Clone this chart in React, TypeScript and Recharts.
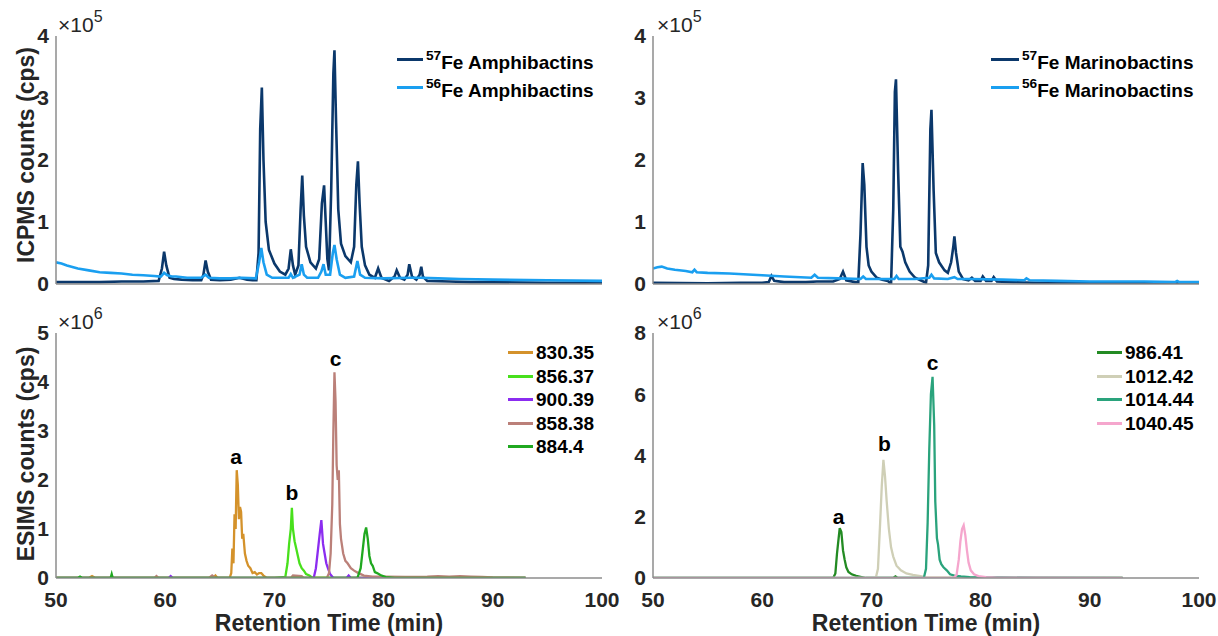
import React from 'react';
import { LineChart, Line, XAxis, YAxis, ReferenceDot } from 'recharts';

// ICPMS traces, counts in units of 1e5 cps
const amphi57T = [50, 52, 54, 56, 58, 59.4, 59.7, 59.9, 60.1, 60.4, 60.8, 61.5, 62.5, 63.3, 63.5, 63.7, 63.9, 64.2, 65, 66, 66.8, 67.5, 68, 68.35, 68.55, 68.7, 68.85, 69.0, 69.2, 69.5, 70, 70.5, 71, 71.3, 71.5, 71.7, 71.9, 72.2, 72.4, 72.55, 72.7, 72.9, 73.3, 73.8, 74.1, 74.35, 74.55, 74.7, 74.85, 75.0, 75.2, 75.4, 75.5, 75.65, 75.85, 76.1, 76.5, 77.0, 77.3, 77.5, 77.65, 77.8, 78.0, 78.3, 78.7, 79.2, 79.5, 79.8, 80.5, 81.0, 81.2, 81.5, 81.9, 82.2, 82.35, 82.6, 83.0, 83.3, 83.45, 83.6, 84, 86, 88, 90, 95, 100];
const amphi57Y = [0.03, 0.03, 0.03, 0.04, 0.04, 0.05, 0.25, 0.52, 0.3, 0.1, 0.08, 0.07, 0.06, 0.06, 0.15, 0.38, 0.2, 0.07, 0.06, 0.07, 0.1, 0.07, 0.06, 0.06, 0.5, 2.5, 3.17, 2.0, 1.0, 0.55, 0.33, 0.2, 0.15, 0.25, 0.56, 0.3, 0.15, 0.3, 1.2, 1.75, 1.1, 0.6, 0.35, 0.25, 0.4, 1.3, 1.59, 1.0, 0.4, 0.22, 1.5, 3.4, 3.77, 2.6, 1.2, 0.65, 0.45, 0.35, 0.6, 1.6, 1.98, 1.3, 0.6, 0.3, 0.15, 0.1, 0.25, 0.1, 0.05, 0.12, 0.22, 0.1, 0.07, 0.15, 0.32, 0.12, 0.07, 0.15, 0.28, 0.12, 0.05, 0.04, 0.03, 0.03, 0.02, 0.02];

const amphi56T = [50, 50.5, 51, 52, 53, 54, 55, 56, 57, 58, 59, 59.6, 59.9, 60.2, 60.6, 61, 62, 63.3, 63.7, 64.0, 65, 66, 67, 68.3, 68.6, 68.8, 69.0, 69.3, 69.8, 71.3, 71.5, 71.7, 72.3, 72.5, 72.7, 73, 74, 74.3, 74.5, 74.7, 75.1, 75.35, 75.5, 75.7, 76, 76.5, 77.3, 77.6, 77.85, 78.3, 80, 82.4, 83.4, 85, 87, 90, 95, 100];
const amphi56Y = [0.35, 0.33, 0.3, 0.25, 0.22, 0.19, 0.18, 0.17, 0.15, 0.14, 0.13, 0.12, 0.18, 0.14, 0.12, 0.12, 0.1, 0.1, 0.15, 0.1, 0.09, 0.09, 0.1, 0.09, 0.35, 0.58, 0.35, 0.15, 0.1, 0.1, 0.16, 0.1, 0.15, 0.32, 0.15, 0.1, 0.1, 0.2, 0.32, 0.15, 0.15, 0.5, 0.63, 0.4, 0.15, 0.1, 0.12, 0.37, 0.15, 0.1, 0.09, 0.1, 0.1, 0.09, 0.08, 0.07, 0.06, 0.05];

const marino57T = [50, 55, 58, 60, 60.6, 60.85, 61.1, 62, 64, 65, 66.5, 67.1, 67.4, 67.7, 68.5, 68.8, 69.0, 69.2, 69.35, 69.55, 69.75, 70, 70.5, 71, 71.5, 71.8, 72.0, 72.15, 72.25, 72.45, 72.65, 72.85, 73.1, 73.5, 74.0, 74.5, 75.0, 75.2, 75.4, 75.5, 75.7, 75.9, 76.2, 76.7, 77.0, 77.3, 77.5, 77.6, 77.75, 78.0, 78.4, 78.9, 79.2, 79.5, 80.0, 80.2, 80.5, 81.0, 81.2, 81.5, 83, 85, 90, 95, 100];
const marino57Y = [0.02, 0.01, 0.02, 0.02, 0.03, 0.13, 0.05, 0.03, 0.03, 0.04, 0.04, 0.08, 0.2, 0.06, 0.03, 0.03, 0.8, 1.95, 1.6, 0.6, 0.3, 0.2, 0.1, 0.07, 0.05, 0.0, 1.2, 3.1, 3.3, 1.8, 0.6, 0.52, 0.35, 0.2, 0.1, 0.06, 0.02, 0.3, 2.5, 2.81, 1.5, 0.5, 0.35, 0.22, 0.18, 0.35, 0.6, 0.77, 0.5, 0.2, 0.08, 0.06, 0.1, 0.05, 0.05, 0.12, 0.05, 0.05, 0.11, 0.04, 0.03, 0.02, 0.01, 0.01, 0.01];

const marino56T = [50, 50.4, 50.8, 51.3, 52, 53, 53.6, 53.8, 54.0, 55, 57, 60, 62, 64.5, 64.8, 65.1, 67, 69.0, 69.25, 69.5, 71, 72.1, 72.3, 72.5, 74, 75.3, 75.5, 75.75, 77, 77.6, 77.9, 79, 82, 84.0, 84.2, 84.5, 87, 90, 95, 97.8, 98.0, 98.2, 100];
const marino56Y = [0.25, 0.27, 0.28, 0.25, 0.23, 0.21, 0.19, 0.23, 0.19, 0.18, 0.17, 0.14, 0.12, 0.1, 0.15, 0.1, 0.09, 0.08, 0.12, 0.08, 0.08, 0.08, 0.13, 0.08, 0.08, 0.1, 0.15, 0.09, 0.08, 0.11, 0.08, 0.08, 0.07, 0.06, 0.09, 0.06, 0.05, 0.04, 0.04, 0.03, 0.05, 0.03, 0.03];

// ESIMS extracted ion traces, counts in units of 1e6 cps
const esi830T = [50, 53, 53.3, 53.6, 58, 62, 64.4, 64.6, 64.8, 65.9, 66.05, 66.15, 66.25, 66.35, 66.45, 66.55, 66.65, 66.75, 66.85, 66.95, 67.05, 67.15, 67.3, 67.45, 67.6, 67.8, 68.0, 68.2, 68.4, 68.6, 68.8, 69.0, 69.3, 75, 80, 88, 93];
const esi830Y = [0, 0, 0.04, 0, 0, 0, 0, 0.05, 0, 0, 0.1, 0.6, 0.3, 1.3, 1.0, 2.2, 1.9, 1.2, 1.45, 1.35, 0.8, 0.9, 0.5, 0.35, 0.25, 0.2, 0.1, 0.12, 0.07, 0.1, 0.1, 0.05, 0, 0, 0, 0, 0];

const esi856T = [50, 60, 70, 71.0, 71.2, 71.35, 71.5, 71.6, 71.7, 71.85, 72.0, 72.15, 72.3, 72.5, 72.7, 72.9, 73.2, 73.5, 80, 93];
const esi856Y = [0, 0, 0, 0.02, 0.3, 0.7, 1.0, 1.43, 1.0, 0.75, 0.6, 0.45, 0.3, 0.2, 0.15, 0.08, 0.05, 0, 0, 0];

const esi900T = [50, 60.3, 60.5, 60.7, 70, 73.6, 73.8, 74.0, 74.15, 74.3, 74.45, 74.6, 74.75, 74.9, 75.1, 75.4, 76.6, 76.8, 77, 93];
const esi900Y = [0, 0, 0.04, 0, 0, 0, 0.2, 0.6, 0.9, 1.18, 0.7, 0.5, 0.3, 0.2, 0.08, 0, 0, 0.05, 0, 0];

const esi858T = [50, 59, 59.2, 59.4, 64, 64.3, 64.6, 70, 71.5, 71.7, 72.5, 72.7, 74.8, 75.0, 75.15, 75.3, 75.4, 75.5, 75.6, 75.7, 75.8, 75.9, 76.0, 76.1, 76.3, 76.5, 76.7, 77.0, 77.3, 77.7, 78.2, 79, 80, 82, 84, 85, 86, 87, 88, 89, 90, 93];
const esi858Y = [0, 0, 0.04, 0, 0, 0.05, 0, 0, 0, 0.05, 0.04, 0, 0, 0.1, 0.5, 1.5, 3.0, 4.2, 3.6, 2.3, 2.0, 2.2, 1.1, 0.8, 0.5, 0.35, 0.3, 0.2, 0.15, 0.1, 0.05, 0.03, 0.03, 0.02, 0.03, 0.04, 0.03, 0.04, 0.03, 0.02, 0.01, 0];

const esi884T = [50, 52, 52.2, 52.4, 55.0, 55.1, 55.2, 56, 62, 70, 77.6, 77.9, 78.1, 78.25, 78.4, 78.55, 78.7, 78.85, 79.0, 79.2, 79.4, 79.7, 80.2, 81, 93];
const esi884Y = [0, 0, 0.03, 0, 0, 0.08, 0, 0, 0, 0, 0, 0.2, 0.6, 0.9, 1.03, 0.8, 0.45, 0.3, 0.25, 0.12, 0.1, 0.06, 0.02, 0, 0];

const esi986T = [50, 60, 66.5, 66.7, 66.85, 67.0, 67.1, 67.25, 67.4, 67.55, 67.7, 67.9, 68.2, 68.6, 69.0, 69.5, 70.5, 72, 72.2, 72.4, 80, 93];
const esi986Y = [0, 0, 0, 0.15, 0.8, 1.3, 1.63, 1.5, 0.9, 0.6, 0.35, 0.2, 0.12, 0.07, 0.04, 0, 0, 0, 0.05, 0, 0, 0];

const esi1012T = [50, 68, 70.4, 70.6, 70.8, 70.95, 71.1, 71.25, 71.4, 71.6, 71.8, 72.0, 72.3, 72.7, 73.2, 73.8, 74.5, 75, 80, 93];
const esi1012Y = [0, 0, 0, 0.3, 1.8, 3.0, 3.86, 3.3, 2.5, 1.6, 1.0, 0.7, 0.4, 0.25, 0.15, 0.1, 0.06, 0.02, 0, 0];

const esi1014T = [50, 60, 74.8, 75.0, 75.15, 75.3, 75.45, 75.6, 75.75, 75.85, 76.0, 76.1, 76.25, 76.4, 76.6, 76.9, 77.2, 77.6, 78.2, 79, 82, 85, 93];
const esi1014Y = [0, 0, 0, 0.3, 1.8, 4.2, 6.0, 6.57, 5.0, 2.5, 1.3, 1.1, 0.6, 0.45, 0.35, 0.25, 0.12, 0.08, 0.05, 0.03, 0.02, 0.01, 0];

const esi1040T = [50, 60, 77.5, 77.8, 78.0, 78.15, 78.3, 78.45, 78.6, 78.75, 78.9, 79.1, 79.4, 79.8, 80.5, 81.5, 93];
const esi1040Y = [0, 0, 0, 0.1, 0.6, 1.2, 1.6, 1.72, 1.4, 0.9, 0.5, 0.25, 0.12, 0.06, 0.03, 0.01, 0];

const timeTicks = [50, 60, 70, 80, 90, 100];
const icpTicks = [0, 1, 2, 3, 4];
const esiLeftTicks = [0, 1, 2, 3, 4, 5];
const esiRightTicks = [0, 2, 4, 6, 8];

const FONT = '"Liberation Sans", Arial, Helvetica, sans-serif';
const TEXT = '#262626';
const AXIS = '#8c8c8c';

type Series = { name: string; sup?: string; color: string; t: number[]; y: number[]; w: number };
type Mark = { label: string; t: number; v: number };

const toPoints = (t: number[], y: number[]) => t.map((x, i) => ({ t: x, v: y[i] }));

const Panel = (p: {
  left: number; top: number; width: number; height: number;
  mTop: number; mRight: number; yAxisW: number; xAxisH: number;
  yMax: number; yTicks: number[]; series: Series[]; xLabels: boolean; marks?: Mark[];
}) => (
  <div style={{ position: 'absolute', left: p.left, top: p.top }}>
    <LineChart width={p.width} height={p.height} margin={{ top: p.mTop, right: p.mRight, bottom: 0, left: 0 }}>
      <XAxis
        dataKey="t" type="number" domain={[50, 100]} allowDataOverflow
        ticks={p.xLabels ? timeTicks : []} tick={p.xLabels ? { fill: TEXT, fontSize: 21, fontWeight: 700, fontFamily: FONT } : false}
        tickLine={false} tickMargin={8} height={p.xAxisH}
        axisLine={{ stroke: AXIS, strokeWidth: 1.5 }}
        label={p.xLabels ? { value: 'Retention Time (min)', position: 'insideBottom', offset: 5, fill: TEXT, fontSize: 23, fontWeight: 700, fontFamily: FONT } : undefined}
      />
      <YAxis
        type="number" domain={[0, p.yMax]} ticks={p.yTicks} allowDataOverflow width={p.yAxisW}
        tick={{ fill: TEXT, fontSize: 21, fontWeight: 700, fontFamily: FONT }}
        tickLine={false} tickMargin={1} axisLine={{ stroke: AXIS, strokeWidth: 1.5 }}
      />
      {p.series.map((s) => (
        <Line key={s.name} data={toPoints(s.t, s.y)} dataKey="v" type="linear" stroke={s.color}
          strokeWidth={s.w} dot={false} activeDot={false} isAnimationActive={false} />
      ))}
      {(p.marks || []).map((m) => (
        <ReferenceDot key={m.label} x={m.t} y={m.v} r={0} fill="none" stroke="none"
          label={{ value: m.label, position: 'center', fill: '#000', fontSize: 21, fontWeight: 700, fontFamily: FONT }} />
      ))}
    </LineChart>
  </div>
);

const Exponent = ({ left, top, exp }: { left: number; top: number; exp: string }) => (
  <div style={{ position: 'absolute', left, top, fontFamily: FONT, color: TEXT, fontSize: 21, whiteSpace: 'nowrap', lineHeight: 1 }}>
    ×10<span style={{ fontSize: 16, position: 'relative', top: -10 }}>{exp}</span>
  </div>
);

const YTitle = ({ cx, cy, text }: { cx: number; cy: number; text: string }) => (
  <div style={{
    position: 'absolute', left: cx, top: cy, transform: 'translate(-50%, -50%) rotate(-90deg)',
    fontFamily: FONT, fontWeight: 700, fontSize: 23, color: TEXT, whiteSpace: 'nowrap', lineHeight: 1,
  }}>{text}</div>
);

const LegendBox = ({ left, top, items, rowH, lineW, fontSize }: { left: number; top: number; items: Series[]; rowH: number; lineW: number; fontSize: number }) => (
  <div style={{ position: 'absolute', left, top, fontFamily: FONT, fontWeight: 700, color: '#000', fontSize, lineHeight: 1 }}>
    {items.map((it) => (
      <div key={it.name} style={{ display: 'flex', alignItems: 'center', height: rowH, whiteSpace: 'nowrap' }}>
        <div style={{ width: lineW, height: 3, background: it.color, marginRight: 3 }} />
        <span style={{ position: 'relative', top: it.sup ? 3 : 0 }}>
          {it.sup ? <span style={{ fontSize: fontSize * 0.72, position: 'relative', top: -9 }}>{it.sup}</span> : null}
          {it.name}
        </span>
      </div>
    ))}
  </div>
);

const DARK = '#0b386b';
const LIGHT = '#1a9ff0';

const amphiSeries: Series[] = [
  { name: 'Fe Amphibactins', sup: '57', color: DARK, t: amphi57T, y: amphi57Y, w: 2.6 },
  { name: 'Fe Amphibactins ', sup: '56', color: LIGHT, t: amphi56T, y: amphi56Y, w: 2.6 },
];
const marinoSeries: Series[] = [
  { name: 'Fe Marinobactins', sup: '57', color: DARK, t: marino57T, y: marino57Y, w: 2.6 },
  { name: 'Fe Marinobactins ', sup: '56', color: LIGHT, t: marino56T, y: marino56Y, w: 2.6 },
];
const esiLeftSeries: Series[] = [
  { name: '830.35', color: '#d4922b', t: esi830T, y: esi830Y, w: 2.3 },
  { name: '856.37', color: '#48e01c', t: esi856T, y: esi856Y, w: 2.3 },
  { name: '900.39', color: '#8b2cf0', t: esi900T, y: esi900Y, w: 2.3 },
  { name: '858.38', color: '#bb8079', t: esi858T, y: esi858Y, w: 2.3 },
  { name: '884.4', color: '#20a820', t: esi884T, y: esi884Y, w: 2.3 },
];
const esiRightSeries: Series[] = [
  { name: '986.41', color: '#238b23', t: esi986T, y: esi986Y, w: 2.3 },
  { name: '1012.42', color: '#cfcfb6', t: esi1012T, y: esi1012Y, w: 2.3 },
  { name: '1014.44', color: '#2aa37c', t: esi1014T, y: esi1014Y, w: 2.3 },
  { name: '1040.45', color: '#f5a6cd', t: esi1040T, y: esi1040Y, w: 2.3 },
];

const leftMarks: Mark[] = [
  { label: 'a', t: 66.5, v: 2.47 },
  { label: 'b', t: 71.6, v: 1.74 },
  { label: 'c', t: 75.6, v: 4.47 },
];
const rightMarks: Mark[] = [
  { label: 'a', t: 67.0, v: 2.02 },
  { label: 'b', t: 71.2, v: 4.38 },
  { label: 'c', t: 75.6, v: 7.03 },
];

export default function App() {
  return (
    <div style={{ position: 'absolute', left: 0, top: 0, width: 1218, height: 636, background: '#fff', overflow: 'hidden' }}>
      <Panel left={0} top={0} width={620} height={300} mTop={36} mRight={18} yAxisW={56} xAxisH={16}
        yMax={4} yTicks={icpTicks} series={amphiSeries} xLabels={false} />
      <Panel left={620} top={0} width={598} height={300} mTop={36} mRight={19} yAxisW={33} xAxisH={16}
        yMax={4} yTicks={icpTicks} series={marinoSeries} xLabels={false} />
      <Panel left={0} top={300} width={620} height={336} mTop={33} mRight={18} yAxisW={56} xAxisH={58}
        yMax={5} yTicks={esiLeftTicks} series={esiLeftSeries} xLabels marks={leftMarks} />
      <Panel left={620} top={300} width={598} height={336} mTop={33} mRight={19} yAxisW={33} xAxisH={58}
        yMax={8} yTicks={esiRightTicks} series={esiRightSeries} xLabels marks={rightMarks} />

      <Exponent left={58} top={14} exp="5" />
      <Exponent left={657} top={14} exp="5" />
      <Exponent left={58} top={311} exp="6" />
      <Exponent left={657} top={311} exp="6" />

      <YTitle cx={26} cy={155} text="ICPMS counts (cps)" />
      <YTitle cx={26} cy={454} text="ESIMS counts (cps)" />

      <LegendBox left={397} top={45} items={amphiSeries} rowH={28} lineW={26} fontSize={19} />
      <LegendBox left={991} top={45} items={marinoSeries} rowH={28} lineW={28} fontSize={19} />
      <LegendBox left={508} top={341} items={esiLeftSeries} rowH={23.5} lineW={25} fontSize={19} />
      <LegendBox left={1097} top={341} items={esiRightSeries} rowH={23.5} lineW={25} fontSize={19} />
    </div>
  );
}
